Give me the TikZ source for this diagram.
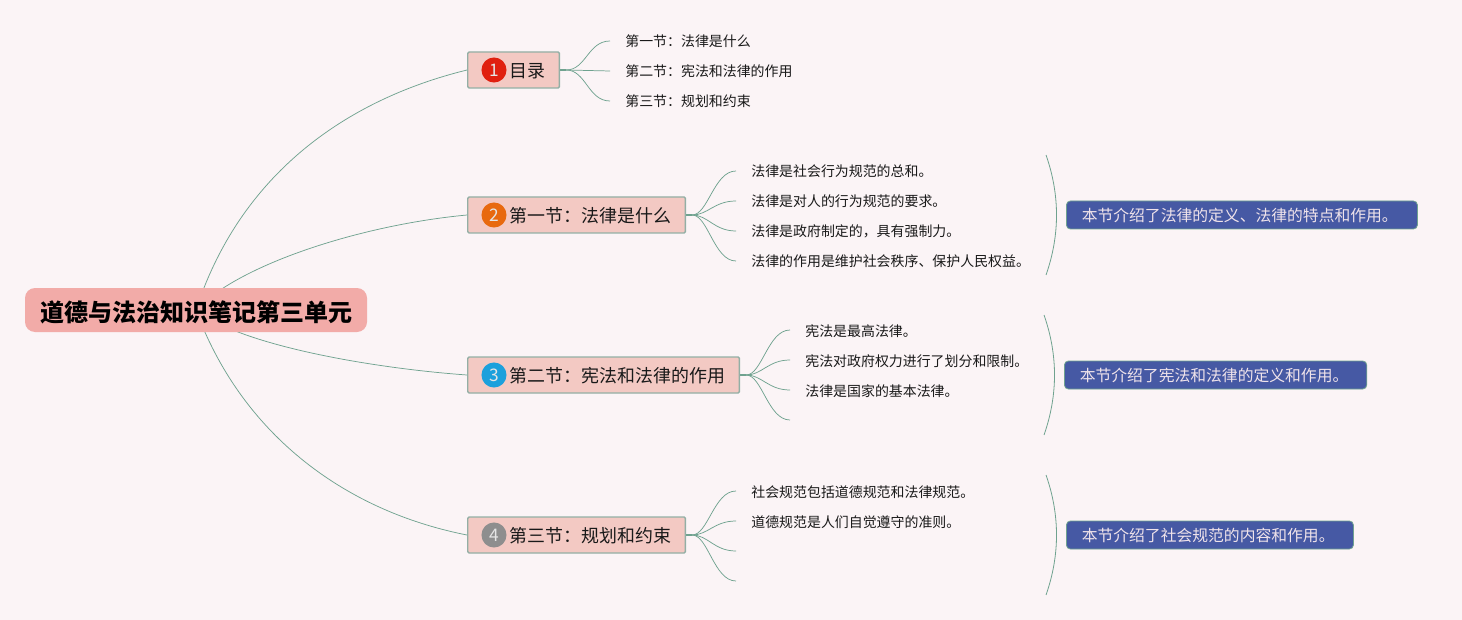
\documentclass[tikz,border=0pt]{standalone}
\usepackage{fontspec}
\setmainfont{Noto Sans CJK SC}
\usetikzlibrary{backgrounds}
\definecolor{bgc}{HTML}{FBF4F6}
\definecolor{linec}{HTML}{6FA28F}
\definecolor{boxf}{HTML}{F3C9C3}
\definecolor{boxd}{HTML}{93AFA5}
\definecolor{rootf}{HTML}{F2ABA8}
\definecolor{bluef}{HTML}{4659A4}
\definecolor{bluet}{HTML}{EFE3EA}
\tikzset{
  x=0.75pt,y=-0.75pt,
  rootbox/.style={fill=rootf,rounded corners=7.5pt,minimum width=256.5pt,minimum height=33pt,inner sep=0pt,font=\fontsize{18}{20}\selectfont\bfseries,text=black},
  topicbox/.style={draw=boxd,line width=1.1pt,fill=boxf,rounded corners=1pt,anchor=west,minimum height=27pt,inner xsep=0pt,inner ysep=0pt,align=left,font=\fontsize{13.45}{16}\selectfont,text=black!90},
  leaf/.style={anchor=west,inner xsep=11.3pt,inner ysep=2pt,font=\fontsize{10.45}{12}\selectfont,text=black!90},
  summary/.style={draw=linec,line width=0.6pt,fill=bluef,rounded corners=3pt,anchor=west,minimum height=21pt,inner xsep=0pt,inner ysep=0pt,align=left,font=\fontsize{11.85}{14}\selectfont,text=bluet},
  badge/.style={circle,minimum size=18.8pt,inner sep=0pt,font=\fontsize{13}{13}\selectfont,text=white!90!black},
  conn/.style={draw=linec,line width=0.55pt},
  stub/.style={draw=linec,line width=1.6pt},
  bracket/.style={draw=linec,line width=0.6pt}
}
\newcommand{\boxtxt}[3]{\hspace*{#1}\raisebox{#2}[0pt][0pt]{#3}}
\newcommand{\lf}[1]{\raisebox{-4.5pt}[0pt][0pt]{#1}}
\begin{document}
\begin{tikzpicture}
\useasboundingbox (0,0) rectangle (1462,620);

\node[rootbox] (root) at (196,310) {\raisebox{-8.3pt}[0pt][0pt]{道德与法治知识笔记第三单元}};

\node[topicbox,text width=68.75pt] (t1) at (467,70) {\boxtxt{31.5pt}{-5.9pt}{目录}};
\node[topicbox,text width=163.25pt] (t2) at (467,215) {\boxtxt{31.5pt}{-5.9pt}{第一节：法律是什么}};
\node[topicbox,text width=203.75pt] (t3) at (467,375) {\boxtxt{31.5pt}{-5.9pt}{第二节：宪法和法律的作用}};
\node[topicbox,text width=163.25pt] (t4) at (467,535) {\boxtxt{31.5pt}{-5.9pt}{第三节：规划和约束}};

\node[badge,fill={rgb,255:red,224;green,32;blue,15}] (b1) at (494,70) {1};
\node[badge,fill={rgb,255:red,232;green,105;blue,15}] (b2) at (494,215) {2};
\node[badge,fill={rgb,255:red,28;green,160;blue,220}] (b3) at (494,375) {3};
\node[badge,fill={rgb,255:red,142;green,142;blue,142}] (b4) at (494,535) {4};

\node[leaf] (a1) at (610,41) {\lf{第一节：法律是什么}};
\node[leaf] (a2) at (610,71) {\lf{第二节：宪法和法律的作用}};
\node[leaf] (a3) at (610,101) {\lf{第三节：规划和约束}};

\node[leaf] (c1) at (736,171) {\lf{法律是社会行为规范的总和。}};
\node[leaf] (c2) at (736,201) {\lf{法律是对人的行为规范的要求。}};
\node[leaf] (c3) at (736,231) {\lf{法律是政府制定的，具有强制力。}};
\node[leaf] (c4) at (736,261) {\lf{法律的作用是维护社会秩序、保护人民权益。}};

\node[leaf] (d1) at (790,330) {\lf{宪法是最高法律。}};
\node[leaf] (d2) at (790,360) {\lf{宪法对政府权力进行了划分和限制。}};
\node[leaf] (d3) at (790,390) {\lf{法律是国家的基本法律。}};
\coordinate (d4) at (790,420);

\node[leaf] (e1) at (736,491) {\lf{社会规范包括道德规范和法律规范。}};
\node[leaf] (e2) at (736,521) {\lf{道德规范是人们自觉遵守的准则。}};
\coordinate (e3) at (736,551);
\coordinate (e4) at (736,581);

\node[summary,text width=263.25pt] (s1) at (1066,215) {\boxtxt{11.5pt}{-4.8pt}{本节介绍了法律的定义、法律的特点和作用。}};
\node[summary,text width=226.75pt] (s2) at (1064,375) {\boxtxt{11.5pt}{-4.8pt}{本节介绍了宪法和法律的定义和作用。}};
\node[summary,text width=215.25pt] (s3) at (1066,535) {\boxtxt{11.5pt}{-4.8pt}{本节介绍了社会规范的内容和作用。}};

\coordinate (p1a) at (1046,155); \coordinate (p1b) at (1046,275);
\coordinate (p2a) at (1044,315); \coordinate (p2b) at (1044,435);
\coordinate (p3a) at (1046,475); \coordinate (p3b) at (1046,595);

\begin{scope}[on background layer]
\fill[bgc] (0,0) rectangle (1462,620);
\draw[conn] (root.center) .. controls (240,175) and (345,100) .. (t1.west);
\draw[conn] (root.center) .. controls (238,265) and (360,225) .. (t2.west);
\draw[conn] (root.center) .. controls (240,345) and (370,368) .. (t3.west);
\draw[conn] (root.center) .. controls (240,430) and (340,510) .. (t4.west);

\foreach \t/\l/\ly in {t1/a1/41,t1/a3/101}{
  \draw[conn] ([xshift=4.5pt]\t.east) .. controls (586,70) and (588,\ly) .. (\l.west);}
\draw[conn] ([xshift=4.5pt]t1.east) -- (a2.west);
\draw[stub] (t1.east) -- ++(6,0);

\foreach \l/\ly in {c1/171,c2/201,c3/231,c4/261}{
  \draw[conn] ([xshift=4.5pt]t2.east) .. controls (708,215) and (714,\ly) .. (\l.west);}
\draw[stub] (t2.east) -- ++(6,0);

\foreach \l/\ly in {d1/330,d2/360,d3/390}{
  \draw[conn] ([xshift=4.5pt]t3.east) .. controls (762,375) and (768,\ly) .. (\l.west);}
\draw[conn] ([xshift=4.5pt]t3.east) .. controls (762,375) and (768,420) .. (d4);
\draw[stub] (t3.east) -- ++(6,0);

\foreach \l/\ly in {e1/491,e2/521}{
  \draw[conn] ([xshift=4.5pt]t4.east) .. controls (708,535) and (714,\ly) .. (\l.west);}
\foreach \l/\ly in {e3/551,e4/581}{
  \draw[conn] ([xshift=4.5pt]t4.east) .. controls (708,535) and (714,\ly) .. (\l);}
\draw[stub] (t4.east) -- ++(6,0);

\draw[bracket] (p1a) .. controls (1060,195) and (1060,235) .. (p1b);
\draw[bracket] (p2a) .. controls (1058,355) and (1058,395) .. (p2b);
\draw[bracket] (p3a) .. controls (1060,515) and (1060,555) .. (p3b);
\end{scope}
\end{tikzpicture}
\end{document}
